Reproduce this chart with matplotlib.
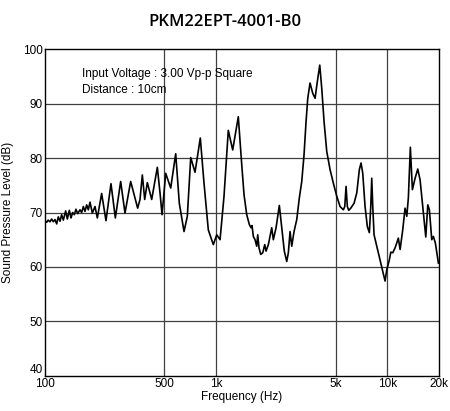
import matplotlib
matplotlib.use("Agg")
import matplotlib.pyplot as plt

# frequency response
freq_hz = [100.4, 102.7, 104.9, 107.4, 109.8, 112.3, 114.9, 117.5, 120.1, 122.9,
           125.6, 128.5, 132.6, 135.6, 139.3, 142.4, 145.7, 148.9, 152.3, 155.8,
           160.8, 164.4, 168.2, 171.9, 175.9, 179.8, 183.9, 189.8, 196.7, 203.0,
           215.1, 228.0, 243.9, 258.6, 277.8, 294.4, 317.8, 349.1,
           360.3, 371.7, 383.8, 397.5, 421.7, 454.8, 471.6, 484.5, 509.1, 544.5,
           582.3, 611.2, 651.2, 680.8, 712.6, 755.0, 810.6, 852.0, 902.7, 965.6,
           1011, 1057, 1115, 1181, 1253, 1351,
           1415, 1459, 1513, 1567, 1603, 1625, 1654, 1692, 1731, 1754,
           1785, 1827, 1877, 1928, 1962, 2024, 2118, 2164, 2245, 2346,
           2423, 2508, 2592, 2648, 2710, 2772, 2859, 2965, 3070, 3171,
           3270, 3360, 3438, 3545, 3677, 3793, 3912, 4040, 4150, 4281, 4439,
           4640, 4850, 5077, 5308, 5549, 5654, 5754, 5855, 5967, 6130,
           6409, 6645, 6881, 7040, 7203, 7429, 7662, 7871, 8021, 8128,
           8240, 8385, 8696, 9090, 9426, 9722, 9947, 10300, 10500, 10780,
           11120, 11380, 11620, 11900, 12330, 12720, 13020, 13300, 13660, 14040,
           14560, 15090, 15570, 16140, 16810, 17270, 17640, 18220, 18620, 19120,
           19920]
spl_db = [68.5, 68.2, 68.6, 68.3, 68.8, 68.3, 68.7, 67.9, 69.2, 68.4,
          69.6, 68.6, 70.3, 68.8, 70.4, 69.0, 70.0, 69.6, 70.6, 69.8,
          70.5, 70.0, 71.1, 70.2, 71.4, 70.5, 71.9, 69.9, 71.1, 69.0,
          73.5, 68.5, 75.3, 69.0, 75.7, 69.9, 75.7, 70.8,
          72.4, 76.9, 72.4, 75.5, 72.4, 78.3, 73.6, 69.6, 77.2, 74.5,
          80.8, 71.7, 66.5, 69.3, 80.1, 77.4, 83.7, 75.4, 66.8, 64.1,
          65.9, 65.0, 73.0, 85.1, 81.5, 87.6,
          78.8, 73.3, 69.6, 67.8, 67.2, 67.6, 65.6, 65.0, 63.8, 65.9,
          63.5, 62.3, 62.6, 64.1, 62.9, 64.1, 67.2, 65.0, 67.2, 71.3,
          67.2, 62.9, 61.0, 62.6, 66.5, 63.8, 66.5, 68.7, 72.7, 75.7,
          80.6, 86.7, 91.0, 93.8, 91.9, 91.0, 94.1, 97.1, 92.8, 86.7, 81.2,
          77.9, 75.4, 73.0, 71.1, 70.5, 71.1, 74.8, 71.1, 70.4, 70.8,
          71.7, 73.6, 77.9, 79.1, 77.2, 71.1, 67.4, 66.3, 71.1, 76.3,
          71.1, 65.9, 63.8, 61.3, 59.2, 57.4, 59.5, 61.3, 62.7, 62.6,
          63.5, 64.4, 65.3, 63.2, 66.8, 70.8, 69.3, 72.7, 82.0, 74.2,
          76.3, 78.0, 76.0, 71.1, 65.5, 71.4, 70.5, 65.0, 65.6, 64.4,
          60.7]

x_ticks = [100, 500, 1000, 5000, 10000, 20000]
x_tick_labels = ["100", "500", "1k", "5k", "10k", "20k"]
y_ticks = [40, 50, 60, 70, 80, 90, 100]

plt.rcParams['font.family'] = ['Liberation Sans', 'DejaVu Sans']

fig = plt.figure(figsize=(4.5, 4.11), dpi=100)
ax = fig.add_axes([0.0993, 0.0859, 0.8756, 0.7941])

ax.plot(freq_hz, spl_db, color='k', linewidth=1.2)

ax.set_xscale('log')
ax.set_xlim(100, 20000)
ax.set_ylim(40, 100)
ax.set_xticks(x_ticks)
ax.set_xticklabels(x_tick_labels)
ax.minorticks_off()
ax.set_yticks(y_ticks)
ax.tick_params(length=0, labelsize=8.5, pad=1.5)
# the bottom "40" sits above the corner, clear of the "100" below it
ax.get_yticklabels()[0].set_va('bottom')

# grid only on the inner lines
for f in x_ticks[1:-1]:
    ax.axvline(f, color='0.25', linewidth=0.9, zorder=0)
for v in y_ticks[1:-1]:
    ax.axhline(v, color='0.25', linewidth=0.9, zorder=0)

for s in ax.spines.values():
    s.set_linewidth(1.0)
    s.set_color('k')

ax.set_xlabel('Frequency (Hz)', fontsize=8.5, labelpad=1)
ax.set_ylabel('Sound Pressure Level (dB)', fontsize=8.5, labelpad=6)

ax.text(0.094, 0.925, "Input Voltage : 3.00 Vp-p Square", transform=ax.transAxes,
        fontsize=8.5, va='center')
ax.text(0.094, 0.876, "Distance : 10cm", transform=ax.transAxes,
        fontsize=8.5, va='center')

fig.text(0.5, 0.947, "PKM22EPT-4001-B0", ha='center', va='center',
         fontsize=12, fontweight='semibold', family=['Open Sans', 'DejaVu Sans'])

fig.savefig("out.png", dpi=100)
